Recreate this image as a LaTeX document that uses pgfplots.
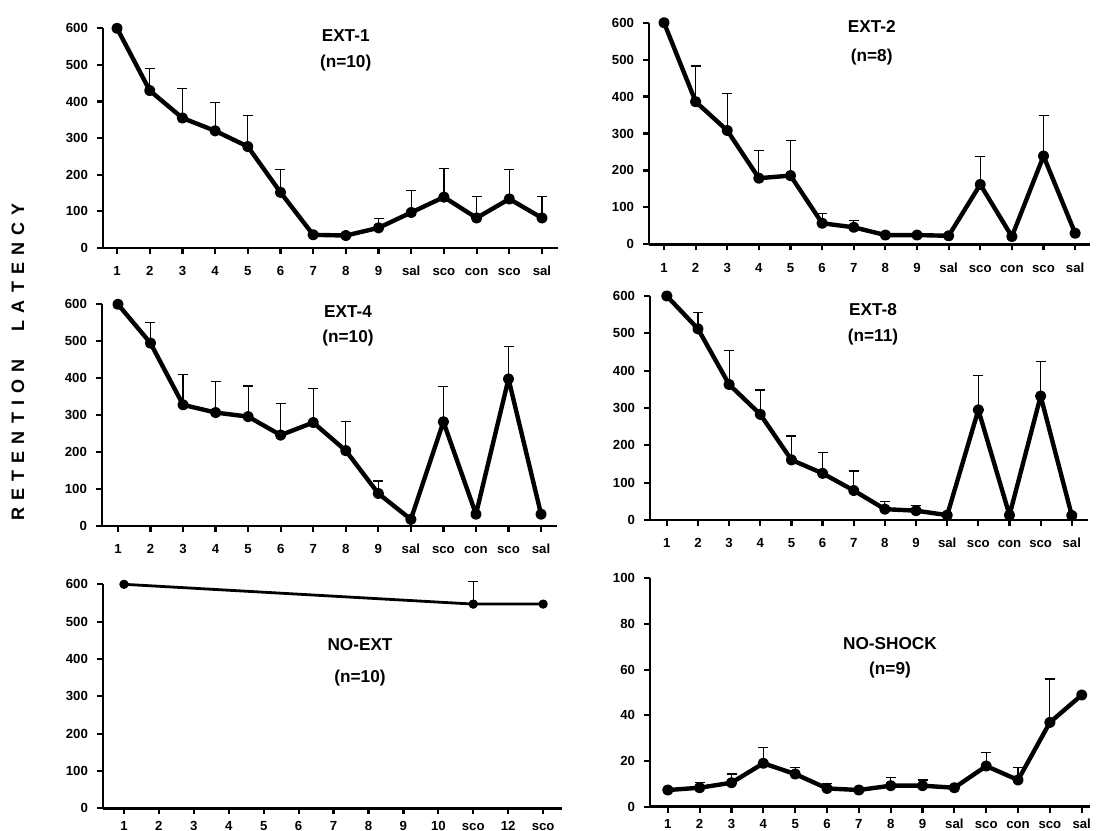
\documentclass[border=0pt]{standalone}
\usepackage{fontspec}
\setmainfont{Liberation Sans}
\usepackage{pgfplots}
\pgfplotsset{compat=1.18}
\pgfplotsset{
  panel/.style={
    scale only axis, anchor=south west, clip=false,
    axis lines*=left, axis line style={line width=1.3pt,-},
    tick align=outside, major tick length=3pt,
    tick style={line width=1.1pt, black},
    ymin=0, ymax=600, ytick={0,100,...,600},
    xtick={1,...,14},
    xticklabels={1,2,3,4,5,6,7,8,9,sal,sco,con,sco,sal},
    /pgf/number format/assume math mode=true,
    ticklabel style={font=\bfseries\fontsize{6.6}{7}\selectfont},
    xticklabel style={text height=1.6ex, text depth=0.2ex, yshift=1pt},
    yticklabel style={xshift=-1pt},
    enlargelimits=false,
  },
  bottom/.style={xticklabel style={yshift=3pt}},
  mean/.style={black, line width=2.2pt, line join=round, mark=*, mark size=1.7pt},
  err/.style={only marks, mark=none, black,
    error bars/.cd, y dir=plus, y explicit,
    error bar style={line width=0.6pt, black},
    error mark options={line width=0.6pt, black, mark size=2.5pt, rotate=90}},
}
\newcommand\ls{\hspace{3.6pt}}
\begin{document}
\begin{tikzpicture}
\useasboundingbox (0,0) rectangle (555pt,415.5pt);
% EXT-1
\begin{axis}[panel, at={(51.5pt,291.5pt)}, width=227.5pt, height=109.85pt, xmin=0.57, xmax=14.49]
\addplot[mean] coordinates {(1,600)(2,430)(3,355)(4,320)(5,277)(6,152)(7,36)(8,34)(9,55)(10,97)(11,139)(12,82)(13,134)(14,82)};
\addplot[err] table[x=x,y=y,y error=e] {
x y e
2 430 61
3 355 81
4 320 77
5 277 84
6 152 62
9 55 25
10 97 59
11 139 79
12 82 59
13 134 80
14 82 59
};
\end{axis}
% EXT-2
\begin{axis}[panel, at={(324.5pt,293.35pt)}, width=220.5pt, height=110.8pt, xmin=0.525, xmax=14.47]
\addplot[mean] coordinates {(1,600)(2,386)(3,308)(4,179)(5,186)(6,57)(7,46)(8,25)(9,25)(10,23)(11,162)(12,21)(13,239)(14,30)};
\addplot[err] table[x=x,y=y,y error=e] {
x y e
2 386 97
3 308 101
4 179 75
5 186 96
6 57 27
7 46 18
11 162 75
13 239 109
};
\end{axis}
% EXT-4
\begin{axis}[panel, at={(51pt,152.5pt)}, width=227.5pt, height=110.85pt, xmin=0.51, xmax=14.49]
\addplot[mean] coordinates {(1,600)(2,495)(3,328)(4,307)(5,296)(6,246)(7,280)(8,204)(9,88)(10,18)(11,282)(12,32)(13,398)(14,32)};
\addplot[err] table[x=x,y=y,y error=e] {
x y e
2 495 55
3 328 81
4 307 84
5 296 83
6 246 86
7 280 93
8 204 78
9 88 34
11 282 95
13 398 88
};
\end{axis}
% EXT-8
\begin{axis}[panel, at={(325pt,155.5pt)}, width=219pt, height=112pt, xmin=0.46, xmax=14.52]
\addplot[mean] coordinates {(1,600)(2,512)(3,363)(4,283)(5,161)(6,125)(7,79)(8,29)(9,25)(10,13)(11,295)(12,13)(13,332)(14,12)};
\addplot[err] table[x=x,y=y,y error=e] {
x y e
2 512 43
3 363 90
4 283 65
5 161 64
6 125 55
7 79 52
8 29 20
9 25 13
11 295 93
13 332 92
};
\end{axis}
% NO-EXT
\begin{axis}[panel, bottom, at={(51.5pt,11.35pt)}, width=229.5pt, height=112pt, xmin=0.40, xmax=13.54,
  xtick={1,...,13}, xticklabels={1,2,3,4,5,6,7,8,9,10,sco,12,sco}]
\addplot[mean, mark size=1.6pt, line width=1.4pt] coordinates {(1,600)(11,547)(13,547)};
\addplot[err] table[x=x,y=y,y error=e] {
x y e
11 547 60
};
\end{axis}
% NO-SHOCK
\begin{axis}[panel, bottom, at={(325pt,12.15pt)}, width=220pt, height=114.2pt, xmin=0.44, xmax=14.26,
  ymax=100, ytick={0,20,...,100}]
\addplot[mean] coordinates {(1,7.3)(2,8.3)(3,10.5)(4,19)(5,14.3)(6,8)(7,7.3)(8,9.2)(9,9.2)(10,8.3)(11,17.8)(12,11.7)(13,36.9)(14,48.9)};
\addplot[err] table[x=x,y=y,y error=e] {
x y e
2 8.3 2.2
3 10.5 3.8
4 19 7
5 14.3 2.9
6 8 2.2
8 9.2 3.6
9 9.2 2.5
11 17.8 6
12 11.7 5.5
13 36.9 19
};
\end{axis}
% titles
\begin{scope}[every node/.style={font=\bfseries\fontsize{8.6}{9}\selectfont, inner sep=0pt}]
\node at (172.85pt,397.65pt) {EXT-1};
\node at (172.85pt,383.85pt) {(n=10)};
\node at (435.85pt,402pt) {EXT-2};
\node at (435.85pt,387pt) {(n=8)};
\node at (174pt,259.65pt) {EXT-4};
\node at (174pt,246.5pt) {(n=10)};
\node at (436.5pt,260.5pt) {EXT-8};
\node at (436.5pt,247.15pt) {(n=11)};
\node at (180pt,93pt) {NO-EXT};
\node at (180pt,76.5pt) {(n=10)};
\node at (445pt,93.85pt) {NO-SHOCK};
\node at (445pt,80.5pt) {(n=9)};
\end{scope}
\node[rotate=90, font=\bfseries\fontsize{9}{10}\selectfont, inner sep=0pt] at (9pt,234.5pt)
  {R\ls E\ls T\ls E\ls N\ls T\ls I\ls O\ls N\hspace{14pt}L\ls A\ls T\ls E\ls N\ls C\ls Y};
\end{tikzpicture}
\end{document}
